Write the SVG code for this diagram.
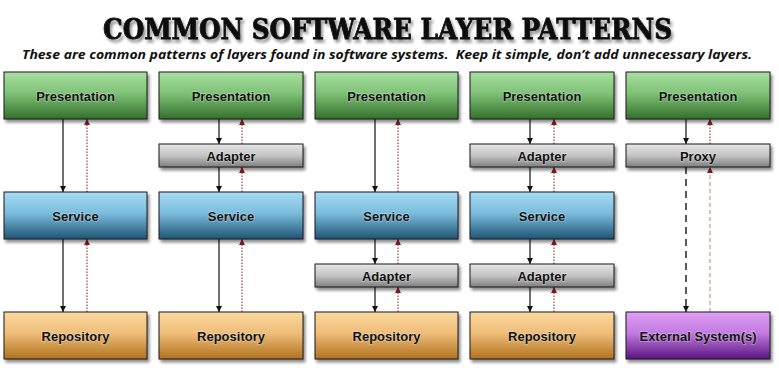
<svg xmlns="http://www.w3.org/2000/svg" width="779" height="368" viewBox="0 0 779 368">
<defs>
  <linearGradient id="gPres" x1="0" y1="0" x2="0" y2="1">
    <stop offset="0" stop-color="#a9dfa2"/><stop offset="0.45" stop-color="#7fc277"/><stop offset="1" stop-color="#346f2c"/>
  </linearGradient>
  <linearGradient id="gServ" x1="0" y1="0" x2="0" y2="1">
    <stop offset="0" stop-color="#a6dbf4"/><stop offset="0.45" stop-color="#7bbcdc"/><stop offset="1" stop-color="#1f5476"/>
  </linearGradient>
  <linearGradient id="gAdap" x1="0" y1="0" x2="0" y2="1">
    <stop offset="0" stop-color="#e6e6e6"/><stop offset="0.5" stop-color="#c4c4c4"/><stop offset="1" stop-color="#7e7e7e"/>
  </linearGradient>
  <linearGradient id="gRepo" x1="0" y1="0" x2="0" y2="1">
    <stop offset="0" stop-color="#fbd89e"/><stop offset="0.45" stop-color="#efbd7a"/><stop offset="1" stop-color="#b0721e"/>
  </linearGradient>
  <linearGradient id="gExt" x1="0" y1="0" x2="0" y2="1">
    <stop offset="0" stop-color="#df9ff6"/><stop offset="0.45" stop-color="#c27ae0"/><stop offset="1" stop-color="#5a1680"/>
  </linearGradient>
  <filter id="sh" x="-10%" y="-20%" width="125%" height="150%">
    <feGaussianBlur in="SourceAlpha" stdDeviation="1.6"/>
    <feOffset dx="2" dy="2.5" result="b"/>
    <feComponentTransfer><feFuncA type="linear" slope="0.45"/></feComponentTransfer>
    <feMerge><feMergeNode/><feMergeNode in="SourceGraphic"/></feMerge>
  </filter>
  <filter id="tsh" filterUnits="userSpaceOnUse" x="80" y="0" width="620" height="60">
    <feGaussianBlur in="SourceAlpha" stdDeviation="1.8"/>
    <feOffset dx="2" dy="3"/>
    <feComponentTransfer><feFuncA type="linear" slope="0.45"/></feComponentTransfer>
    <feMerge><feMergeNode/><feMergeNode in="SourceGraphic"/></feMerge>
  </filter>
  <marker id="ab" viewBox="0 0 10 10" refX="10" refY="5" markerWidth="6" markerHeight="6" markerUnits="userSpaceOnUse" orient="auto">
    <path d="M0,0 L10,5 L0,10 z" fill="#111"/>
  </marker>
  <marker id="ar" viewBox="0 0 10 10" refX="10" refY="5" markerWidth="6" markerHeight="6" markerUnits="userSpaceOnUse" orient="auto">
    <path d="M0,0 L10,5 L0,10 z" fill="#8b1a1a"/>
  </marker>
</defs>
<style>
  .box { stroke:#1a1a1a; stroke-width:1; filter:url(#sh); }
  .pres { fill:url(#gPres); }
  .serv { fill:url(#gServ); }
  .adap { fill:url(#gAdap); }
  .repo { fill:url(#gRepo); }
  .ext { fill:url(#gExt); }
  .lbl { font-family:"Liberation Sans", Arial, sans-serif; font-weight:bold; font-size:13px; fill:#111; text-anchor:middle; stroke:#ffffff; stroke-opacity:0.35; stroke-width:1.5; paint-order:stroke; }
  .dn { stroke:#111; stroke-width:1.2; fill:none; marker-end:url(#ab); }
  .up { stroke:#a0403a; stroke-width:1.2; stroke-dasharray:1.5 1.5; fill:none; marker-end:url(#ar); }
  .dnd { stroke:#222; stroke-width:1.5; fill:none; stroke-dasharray:7 5; marker-end:url(#ab); }
  .upd { stroke:#d9aaaa; stroke-width:1.5; fill:none; stroke-dasharray:4 3; marker-end:url(#ar); }
</style>
<rect width="779" height="368" fill="#ffffff"/>

<text x="103" y="39" font-family="'DejaVu Serif', 'Liberation Serif', serif" font-weight="bold" font-size="28" textLength="569" lengthAdjust="spacingAndGlyphs" fill="#0a0a0a" stroke="#0a0a0a" stroke-width="0.8" filter="url(#tsh)">COMMON SOFTWARE LAYER PATTERNS</text>
<text x="22" y="59" xml:space="preserve" font-family="'Open Sans', 'Liberation Sans', sans-serif" font-weight="bold" font-style="italic" font-size="12.5" textLength="730" lengthAdjust="spacingAndGlyphs" fill="#111">These are common patterns of layers found in software systems.  Keep it simple, don’t add unnecessary layers.</text>

<g id="connectors">
  <!-- column 1 -->
  <line class="dn" x1="63" y1="119" x2="63" y2="192"/>
  <line class="up" x1="87" y1="192" x2="87" y2="119"/>
  <line class="dn" x1="63" y1="239" x2="63" y2="312"/>
  <line class="up" x1="87" y1="312" x2="87" y2="239"/>
  <!-- column 2 -->
  <line class="dn" x1="219" y1="119" x2="219" y2="144"/>
  <line class="up" x1="242" y1="144" x2="242" y2="119"/>
  <line class="dn" x1="219" y1="167" x2="219" y2="192"/>
  <line class="up" x1="242" y1="192" x2="242" y2="167"/>
  <line class="dn" x1="219" y1="239" x2="219" y2="312"/>
  <line class="up" x1="242" y1="312" x2="242" y2="239"/>
  <!-- column 3 -->
  <line class="dn" x1="375" y1="119" x2="375" y2="192"/>
  <line class="up" x1="398" y1="192" x2="398" y2="119"/>
  <line class="dn" x1="375" y1="239" x2="375" y2="264"/>
  <line class="up" x1="398" y1="264" x2="398" y2="239"/>
  <line class="dn" x1="375" y1="287" x2="375" y2="312"/>
  <line class="up" x1="398" y1="312" x2="398" y2="287"/>
  <!-- column 4 -->
  <line class="dn" x1="530" y1="119" x2="530" y2="144"/>
  <line class="up" x1="554" y1="144" x2="554" y2="119"/>
  <line class="dn" x1="530" y1="167" x2="530" y2="192"/>
  <line class="up" x1="554" y1="192" x2="554" y2="167"/>
  <line class="dn" x1="530" y1="239" x2="530" y2="264"/>
  <line class="up" x1="554" y1="264" x2="554" y2="239"/>
  <line class="dn" x1="530" y1="287" x2="530" y2="312"/>
  <line class="up" x1="554" y1="312" x2="554" y2="287"/>
  <!-- column 5 -->
  <line class="dn" x1="686" y1="119" x2="686" y2="144"/>
  <line class="up" x1="710" y1="144" x2="710" y2="119"/>
  <line class="dnd" x1="686" y1="167" x2="686" y2="312"/>
  <line class="upd" x1="710" y1="312" x2="710" y2="167"/>
</g>

<!-- column 1 -->
<g id="c1-presentation"><rect class="box pres" x="4" y="72" width="143" height="47"/><text class="lbl" x="75.5" y="101">Presentation</text></g>
<g id="c1-service"><rect class="box serv" x="4" y="192" width="143" height="47"/><text class="lbl" x="75.5" y="221">Service</text></g>
<g id="c1-repository"><rect class="box repo" x="4" y="312" width="143" height="47"/><text class="lbl" x="75.5" y="341">Repository</text></g>

<!-- column 2 -->
<g id="c2-presentation"><rect class="box pres" x="159" y="72" width="144" height="47"/><text class="lbl" x="231" y="101">Presentation</text></g>
<g id="c2-adapter"><rect class="box adap" x="159" y="144" width="144" height="23"/><text class="lbl" x="231" y="160.5">Adapter</text></g>
<g id="c2-service"><rect class="box serv" x="159" y="192" width="144" height="47"/><text class="lbl" x="231" y="221">Service</text></g>
<g id="c2-repository"><rect class="box repo" x="159" y="312" width="144" height="47"/><text class="lbl" x="231" y="341">Repository</text></g>

<!-- column 3 -->
<g id="c3-presentation"><rect class="box pres" x="315" y="72" width="143" height="47"/><text class="lbl" x="386.5" y="101">Presentation</text></g>
<g id="c3-service"><rect class="box serv" x="315" y="192" width="143" height="47"/><text class="lbl" x="386.5" y="221">Service</text></g>
<g id="c3-adapter"><rect class="box adap" x="315" y="264" width="143" height="23"/><text class="lbl" x="386.5" y="280.5">Adapter</text></g>
<g id="c3-repository"><rect class="box repo" x="315" y="312" width="143" height="47"/><text class="lbl" x="386.5" y="341">Repository</text></g>

<!-- column 4 -->
<g id="c4-presentation"><rect class="box pres" x="470" y="72" width="144" height="47"/><text class="lbl" x="542" y="101">Presentation</text></g>
<g id="c4-adapter-top"><rect class="box adap" x="470" y="144" width="144" height="23"/><text class="lbl" x="542" y="160.5">Adapter</text></g>
<g id="c4-service"><rect class="box serv" x="470" y="192" width="144" height="47"/><text class="lbl" x="542" y="221">Service</text></g>
<g id="c4-adapter-bottom"><rect class="box adap" x="470" y="264" width="144" height="23"/><text class="lbl" x="542" y="280.5">Adapter</text></g>
<g id="c4-repository"><rect class="box repo" x="470" y="312" width="144" height="47"/><text class="lbl" x="542" y="341">Repository</text></g>

<!-- column 5 -->
<g id="c5-presentation"><rect class="box pres" x="626" y="72" width="144" height="47"/><text class="lbl" x="698" y="101">Presentation</text></g>
<g id="c5-proxy"><rect class="box adap" x="626" y="144" width="144" height="23"/><text class="lbl" x="698" y="160.5">Proxy</text></g>
<g id="c5-external"><rect class="box ext" x="626" y="312" width="144" height="47"/><text class="lbl" x="698" y="341">External System(s)</text></g>
</svg>
